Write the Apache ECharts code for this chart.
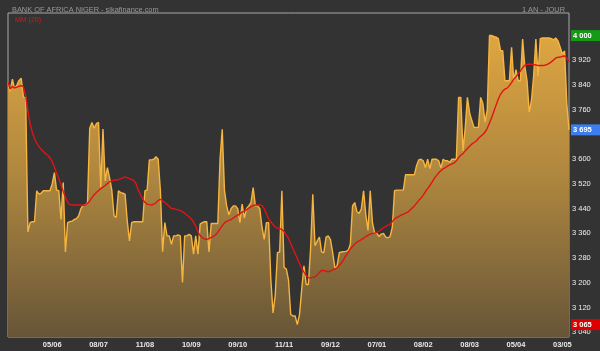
<!DOCTYPE html>
<html><head><meta charset="utf-8">
<script src="https://cdn.jsdelivr.net/npm/echarts@6/dist/echarts.min.js"></script>
<style>html,body{margin:0;padding:0;background:#333333;}#c{width:600px;height:351px;}</style>
</head><body><div id="c"></div>
<script>
const prices = [
3849,3820,3859,3827,3840,3855,3862,3800,3800,3365,
3395,3398,3398,3498,3487,3490,3498,3498,3498,3498,
3520,3557,3500,3498,3405,3525,3300,3395,3398,3400,
3405,3408,3417,3440,3450,3452,3458,3700,3719,3700,
3715,3719,3509,3698,3530,3573,3540,3500,3417,3412,
3498,3492,3490,3487,3400,3336,3395,3398,3398,3398,
3398,3398,3498,3500,3598,3598,3600,3608,3600,3498,
3301,3395,3352,3352,3325,3352,3352,3355,3352,3201,
3352,3352,3357,3352,3293,3352,3293,3390,3395,3398,
3398,3300,3392,3392,3392,3392,3600,3697,3500,3449,
3420,3440,3449,3449,3440,3395,3455,3410,3440,3449,
3460,3508,3449,3449,3440,3380,3341,3395,3395,3210,
3103,3160,3298,3300,3498,3250,3245,3210,3098,3093,
3093,3065,3098,3180,3255,3195,3195,3310,3487,3320,
3335,3348,3300,3298,3348,3352,3340,3298,3248,3255,
3298,3300,3301,3302,3305,3325,3449,3460,3430,3425,
3440,3498,3420,3370,3498,3395,3362,3360,3350,3358,
3360,3348,3346,3350,3380,3498,3500,3500,3500,3500,
3550,3550,3550,3550,3550,3580,3598,3600,3595,3573,
3600,3570,3600,3600,3600,3595,3572,3600,3595,3595,
3590,3600,3600,3600,3800,3800,3627,3700,3800,3750,
3725,3703,3703,3703,3800,3780,3720,3760,4000,4000,
3997,3995,3990,3951,3951,3854,3854,3854,3962,3854,
3890,3854,3854,3989,3900,3854,3752,3790,3870,3989,
3870,3990,3992,3992,3992,3992,3990,3986,3992,3983,
3962,3940,3950,3780,3695
];
const ma20 = [
3849,3827,3836,3830,3833,3836,3838,3834,3805,3755,
3715,3688,3667,3652,3641,3632,3625,3618,3613,3604,
3593,3575,3555,3538,3517,3496,3478,3460,3453,3452,
3452,3452,3452,3452,3451,3451,3457,3465,3476,3485,
3492,3499,3505,3510,3515,3521,3527,3530,3532,3533,
3534,3537,3540,3543,3540,3537,3534,3531,3520,3500,
3485,3470,3460,3455,3453,3452,3455,3459,3467,3470,
3466,3460,3454,3447,3441,3440,3438,3436,3434,3430,
3425,3419,3414,3407,3397,3383,3365,3353,3346,3342,
3341,3343,3347,3350,3356,3364,3375,3385,3394,3399,
3402,3405,3410,3415,3419,3424,3429,3432,3437,3442,
3446,3450,3452,3452,3452,3450,3440,3424,3407,3397,
3389,3381,3377,3375,3373,3366,3355,3344,3327,3311,
3295,3279,3263,3247,3235,3224,3217,3216,3218,3219,
3226,3234,3241,3240,3238,3236,3238,3242,3245,3249,
3257,3265,3276,3288,3299,3310,3318,3326,3332,3336,
3340,3345,3350,3354,3358,3360,3361,3363,3368,3373,
3379,3382,3386,3390,3398,3407,3411,3415,3419,3422,
3426,3429,3435,3442,3449,3458,3467,3474,3484,3495,
3505,3515,3526,3538,3547,3556,3563,3569,3573,3578,
3582,3585,3588,3595,3605,3613,3618,3627,3635,3642,
3649,3654,3659,3667,3674,3680,3688,3700,3717,3735,
3755,3775,3795,3810,3820,3827,3830,3838,3848,3859,
3867,3876,3885,3896,3904,3907,3908,3907,3906,3905,
3903,3903,3903,3904,3906,3910,3915,3921,3927,3930,
3930,3933,3934,3928,3915
];
const xTickLabels = ['05/06','08/07','11/08','10/09','09/10','11/11','09/12','07/01','08/02','08/03','05/04','03/05'];
const xTickIndex = [20,41,62,83,104,125,146,167,188,209,230,251];
const yTickValues = [3040,3120,3200,3280,3360,3440,3520,3600,3760,3840,3920,4000];

const FONT = 'Liberation Sans, Arial, sans-serif';
const fmt = v => String(v).replace(/\B(?=(\d{3})+(?!\d))/g, ' ');
const cats = prices.map((_, i) => String(i));
const maxV = Math.max(...prices), minV = Math.min(...prices), lastV = prices[prices.length - 1];

function tag(v, bg) {
  return { yAxis: v, label: { show: true, position: 'end', distance: 2, formatter: fmt(v),
    color: '#fff', fontSize: 7.5, fontWeight: 'bold', fontFamily: FONT,
    backgroundColor: bg, padding: [2, 10, 1, 2], lineHeight: 8 } };
}

const chart = echarts.init(document.getElementById('c'));
chart.setOption({
  backgroundColor: '#333333',
  animation: false,
  title: [
    { text: 'BANK OF AFRICA NIGER - sikafinance.com', left: 7, top: 1,
      textStyle: { color: '#9a9a9a', fontSize: 7.4, fontWeight: 'normal', fontFamily: FONT } },
    { text: '1 AN - JOUR', right: 30, top: 1,
      textStyle: { color: '#9a9a9a', fontSize: 7.4, fontWeight: 'normal', fontFamily: FONT } },
    { text: 'MM (20)', left: 10, top: 12,
      textStyle: { color: '#e01414', fontSize: 7, fontWeight: 'normal', fontFamily: FONT } }
  ],
  grid: { left: 8, right: 31, top: 13, bottom: 14, show: true, borderColor: '#a8a8a8', borderWidth: 1, backgroundColor: 'transparent' },
  xAxis: {
    type: 'category', data: cats, boundaryGap: false,
    axisLine: { show: false }, axisTick: { show: false }, splitLine: { show: false },
    axisLabel: {
      interval: (idx) => xTickIndex.includes(idx),
      formatter: (val, idx) => { const k = xTickIndex.indexOf(Number(val)); return k >= 0 ? xTickLabels[k] : ''; },
      color: '#e8e8e8', fontSize: 7.5, fontWeight: 'bold', fontFamily: FONT, margin: 4
    }
  },
  yAxis: {
    type: 'value', position: 'right', min: 3025, max: 4073,
    axisLine: { show: false }, axisTick: { show: false }, splitLine: { show: false },
    axisLabel: { customValues: yTickValues, formatter: v => fmt(v), color: '#f0f0f0', fontSize: 7.5, fontFamily: FONT, margin: 3 }
  },
  series: [
    {
      type: 'line', data: prices, symbol: 'none', z: 2,
      lineStyle: { color: '#f6b540', width: 1.4 },
      areaStyle: { color: { type: 'linear', x: 0, y: 0, x2: 0, y2: 1,
        colorStops: [{ offset: 0, color: '#dfa541' }, { offset: 0.5, color: '#aa843e' }, { offset: 1, color: '#675538' }] }, opacity: 1 },
      markLine: { silent: true, symbol: ['none', 'none'], lineStyle: { color: 'rgba(0,0,0,0)', width: 0, type: 'solid' },
        data: [tag(maxV, '#149a14'), tag(lastV, '#3d7df0'), tag(minV, '#dd0000')] }
    },
    {
      type: 'line', data: ma20, symbol: 'none', z: 3,
      lineStyle: { color: '#e01414', width: 1.4 }
    }
  ]
});
</script>
</body></html>
